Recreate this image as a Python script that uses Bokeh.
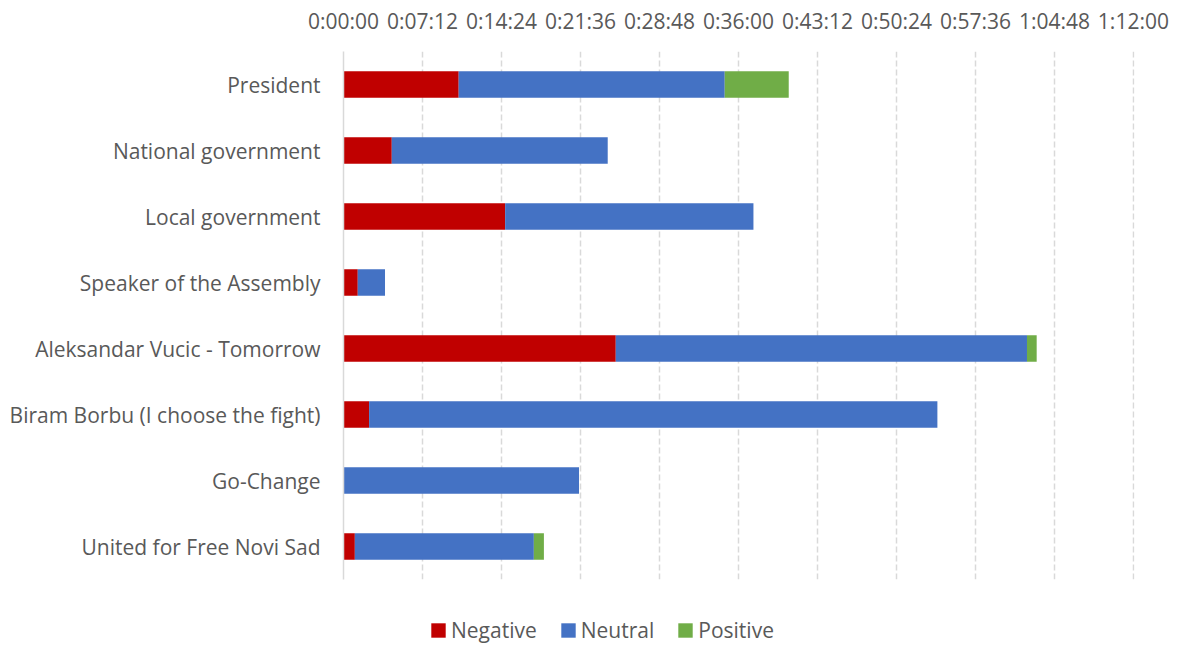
from bokeh.plotting import figure
from bokeh.models import Range1d, FixedTicker, Legend, LegendItem, ColumnDataSource
from bokeh.layouts import column
from bokeh.embed import file_html
from bokeh.resources import INLINE

categories = ["President", "National government", "Local government",
              "Speaker of the Assembly", "Aleksandar Vucic - Tomorrow",
              "Biram Borbu (I choose the fight)", "Go-Change", "United for Free Novi Sad"]
# durations in seconds
negative = [630, 264, 884, 78, 1489, 140, 0, 62]
neutral = [1455, 1181, 1358, 149, 2249, 3108, 1288, 979]
positive = [350, 0, 0, 0, 53, 0, 0, 55]
series = ["Negative", "Neutral", "Positive"]
colors = ["#C00000", "#4472C4", "#70AD47"]
tick_values = [0, 432, 864, 1296, 1728, 2160, 2592, 3024, 3456, 3888, 4320]
tick_labels = ["0:00:00", "0:07:12", "0:14:24", "0:21:36", "0:28:48", "0:36:00",
               "0:43:12", "0:50:24", "0:57:36", "1:04:48", "1:12:00"]

FONT = "Open Sans"
TXT = "#595959"

source = ColumnDataSource(dict(cat=categories, Negative=negative, Neutral=neutral, Positive=positive))

p = figure(width=1182, height=600, y_range=list(reversed(categories)),
           x_range=Range1d(tick_values[0], tick_values[-1] + 6),
           x_axis_location="above", output_backend="svg", toolbar_location=None,
           min_border_left=343, min_border_right=48, min_border_top=51, min_border_bottom=21)
p.outline_line_color = None
p.background_fill_color = "white"
p.border_fill_color = "white"

p.hbar_stack(series, y="cat", height=0.4, color=colors, line_color=None, source=source)

xa = p.xaxis[0]
xa.ticker = FixedTicker(ticks=tick_values)
xa.major_label_overrides = {v: l for v, l in zip(tick_values, tick_labels)}
xa.axis_line_color = None
xa.major_tick_line_color = None
xa.major_tick_out = 0
xa.major_tick_in = 0
xa.minor_tick_line_color = None
xa.major_label_text_font = FONT
xa.major_label_text_font_size = "21px"
xa.major_label_text_color = TXT
xa.major_label_standoff = 17

ya = p.yaxis[0]
ya.axis_line_color = "#D9D9D9"
ya.axis_line_width = 1.5
ya.major_tick_line_color = None
ya.major_tick_out = 0
ya.major_tick_in = 0
ya.minor_tick_line_color = None
ya.major_label_text_font = FONT
ya.major_label_text_font_size = "21px"
ya.major_label_text_color = TXT
ya.major_label_standoff = 23

p.ygrid.grid_line_color = None
p.xgrid.grid_line_color = "#D9D9D9"
p.xgrid.grid_line_width = 1.5
p.xgrid.grid_line_dash = "6 3"

# legend strip below the chart (its frame is aligned with the chart's frame)
nan = float("nan")
lg = figure(width=1182, height=45, x_range=Range1d(0, 1), y_range=Range1d(0, 1),
            output_backend="svg", toolbar_location=None,
            min_border_left=0, min_border_right=0, min_border_top=0, min_border_bottom=0)
lg.axis.visible = False
lg.grid.visible = False
lg.outline_line_color = None
dummies = [lg.hbar(y=[nan], right=[nan], height=1, color=c, line_color=None) for c in colors]
legend = Legend(items=[LegendItem(label=s, renderers=[r]) for s, r in zip(series, dummies)],
                orientation="horizontal", location=(86, 1), padding=0, margin=0,
                spacing=22, glyph_width=18, glyph_height=18, label_standoff=4,
                label_text_font=FONT, label_text_font_size="21px", label_text_color=TXT,
                border_line_color=None, background_fill_alpha=0)
lg.add_layout(legend, "center")

layout = column(p, lg, spacing=0)
open("out.html", "w").write(file_html(layout, INLINE))
